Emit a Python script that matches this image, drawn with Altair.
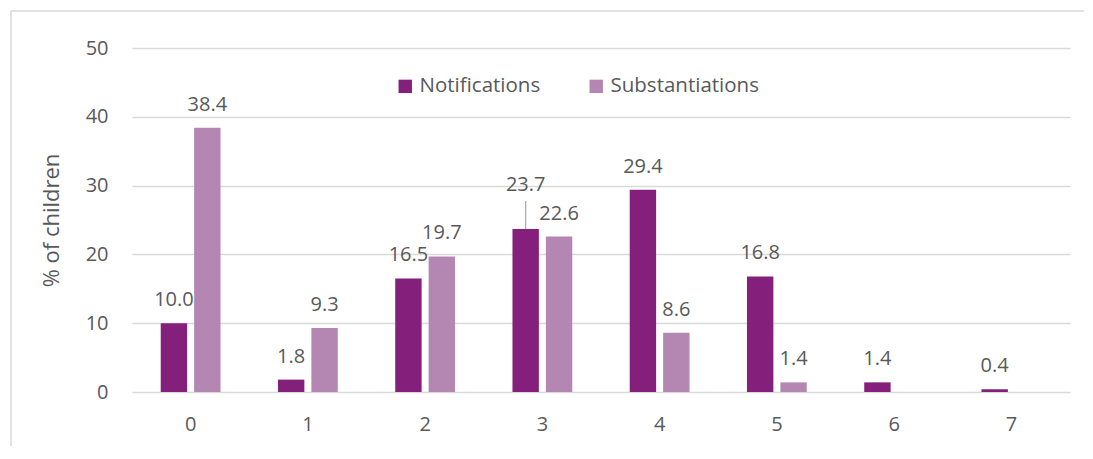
import altair as alt
import pandas as pd

categories = ["0", "1", "2", "3", "4", "5", "6", "7"]
notifications = [10.0, 1.8, 16.5, 23.7, 29.4, 16.8, 1.4, 0.4]
substantiations = [38.4, 9.3, 19.7, 22.6, 8.6, 1.4, None, None]
series = ["Notifications", "Substantiations"]
colors = ["#84207C", "#B387B2"]

rows = []
for c, n, s in zip(categories, notifications, substantiations):
    rows.append({"cat": c, "series": series[0], "value": n})
    if s is not None:
        rows.append({"cat": c, "series": series[1], "value": s})
df = pd.DataFrame(rows)
df["label"] = df["value"].map(lambda v: f"{v:.1f}")
# the label that Excel lifted and connected with a leader line
df["lifted"] = (df["cat"] == "3") & (df["series"] == "Notifications")

FONT = "Open Sans"
TXT = "#595959"
GRID = "#D9D9D9"
FS = 20

x = alt.X("cat:N", sort=categories, title=None,
          scale=alt.Scale(paddingInner=0.49, paddingOuter=0.245),
          axis=alt.Axis(labelAngle=0, ticks=False, domain=False, labelPadding=22,
                        labelFontSize=FS, labelColor=TXT, labelFont=FONT))
xo = alt.XOffset("series:N", sort=series, scale=alt.Scale(paddingInner=0.21, paddingOuter=0))
y = alt.Y("value:Q", title="% of children",
          scale=alt.Scale(domain=[0, 50]),
          axis=alt.Axis(values=[0, 10, 20, 30, 40, 50], ticks=False, domain=False,
                        labelPadding=24, labelFontSize=FS, labelColor=TXT, labelFont=FONT,
                        titleFontSize=22, titleColor=TXT, titleFont=FONT,
                        titleFontWeight="normal", titlePadding=22,
                        gridColor=GRID, gridWidth=1.5))

base = alt.Chart(df)
one = pd.DataFrame({"k": [0]})

frame_top = alt.Chart(one).mark_rule(stroke=GRID, strokeWidth=1.5, clip=False).encode(
    x=alt.value(-121), x2=alt.value(1000), y=alt.value(-37))
frame_left = alt.Chart(one).mark_rule(stroke=GRID, strokeWidth=1.5, clip=False).encode(
    x=alt.value(-121), y=alt.value(-37), y2=alt.value(500))

bars = base.mark_bar().encode(
    x=x, xOffset=xo, y=y,
    color=alt.Color("series:N", sort=series,
                    scale=alt.Scale(domain=series, range=colors),
                    legend=alt.Legend(title=None, orient="none", legendX=263, legendY=28,
                                      direction="horizontal", symbolType="square",
                                      symbolSize=180, symbolStrokeWidth=0,
                                      labelFontSize=20.5, labelColor=TXT, labelFont=FONT,
                                      labelOffset=4, columnPadding=45)),
)

labels = base.transform_filter("!datum.lifted").mark_text(
    baseline="alphabetic", dy=-17, fontSize=FS, color=TXT, font=FONT
).encode(x=x, xOffset=xo, y=y, text="label:N")

lifted_label = base.transform_filter("datum.lifted").mark_text(
    baseline="alphabetic", dy=-38, fontSize=FS, color=TXT, font=FONT
).encode(x=x, xOffset=xo, y=y, text="label:N")

leader = base.transform_filter("datum.lifted").mark_rule(
    color="#A6A6A6", strokeWidth=1.2, y2Offset=-28
).encode(x=x, xOffset=xo, y=y, y2="value:Q")

chart = alt.layer(frame_top, frame_left, bars, labels, lifted_label, leader).properties(
    width=938, height=344,
    autosize=alt.AutoSizeParams(type="none"),
    padding={"left": 124, "top": 40, "right": 14, "bottom": 54},
).configure_view(stroke=None)

chart.save("out.html", embed_options={"renderer": "svg", "actions": False})
